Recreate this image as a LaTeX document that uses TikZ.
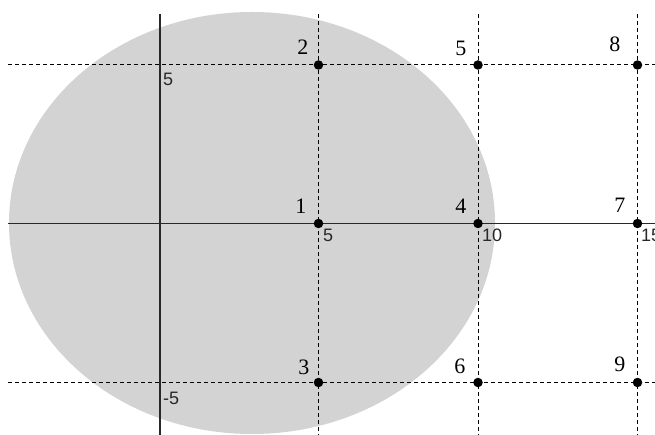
\documentclass[tikz,border=0pt]{standalone}
\usepackage{fontspec}
\setmainfont{Liberation Serif}
\newfontfamily\tickfont{Liberation Sans}
\definecolor{blobgray}{RGB}{211,211,211}
\definecolor{axisgray}{RGB}{40,40,40}
\begin{document}
\begin{tikzpicture}[x=1pt,y=-1pt,
  gridline/.style={draw=black,line width=1pt,dash pattern=on 4pt off 3pt},
  axisline/.style={draw=axisgray,line width=1.4pt},
  dotnode/.style={circle,fill=black,inner sep=0pt,minimum size=9.5pt},
  numlabel/.style={anchor=base east,inner sep=0pt,font=\fontsize{22}{22}\selectfont},
  ticklabel/.style={anchor=north west,inner sep=0pt,font=\tickfont\fontsize{18}{18}\selectfont,text=axisgray}]
\useasboundingbox (0,0) rectangle (655,435);
% gray blob
\fill[blobgray] (252,223) ellipse [x radius=243, y radius=211];
% line ends
\coordinate (hl5) at (8,65);   \coordinate (hr5) at (655,65);
\coordinate (hl0) at (8,223.5); \coordinate (hr0) at (655,223.5);
\coordinate (hlm) at (8,382.5); \coordinate (hrm) at (655,382.5);
\coordinate (vt0) at (160,14); \coordinate (vb0) at (160,435);
\coordinate (vt5) at (318.5,14); \coordinate (vb5) at (318.5,435);
\coordinate (vt10) at (478,14); \coordinate (vb10) at (478,435);
\coordinate (vt15) at (637.5,14); \coordinate (vb15) at (637.5,435);
% grid
\draw[gridline] (hl5) -- (hr5);
\draw[gridline] (hlm) -- (hrm);
\draw[gridline] (vt5) -- (vb5);
\draw[gridline] (vt10) -- (vb10);
\draw[gridline] (vt15) -- (vb15);
% axes
\draw[axisline] (hl0) -- (hr0);
\draw[axisline] (vt0) -- (vb0);
% points
\node[dotnode] (p1) at (318.5,223.5) {};
\node[dotnode] (p2) at (318.5,65) {};
\node[dotnode] (p3) at (318.5,382.5) {};
\node[dotnode] (p4) at (478,223.5) {};
\node[dotnode] (p5) at (478,65) {};
\node[dotnode] (p6) at (478,382.5) {};
\node[dotnode] (p7) at (637.5,223.5) {};
\node[dotnode] (p8) at (637.5,65) {};
\node[dotnode] (p9) at (637.5,382.5) {};
% point labels
\node[numlabel] (l1) at ([xshift=-12pt,yshift=10pt]p1.center) {1};
\node[numlabel] (l2) at ([xshift=-10pt,yshift=10pt]p2.center) {2};
\node[numlabel] (l3) at ([xshift=-9pt,yshift=8.5pt]p3.center) {3};
\node[numlabel] (l4) at ([xshift=-11.5pt,yshift=10pt]p4.center) {4};
\node[numlabel] (l5) at ([xshift=-11.5pt,yshift=9pt]p5.center) {5};
\node[numlabel] (l6) at ([xshift=-12.5pt,yshift=9.5pt]p6.center) {6};
\node[numlabel] (l7) at ([xshift=-12pt,yshift=10.5pt]p7.center) {7};
\node[numlabel] (l8) at ([xshift=-17pt,yshift=13pt]p8.center) {8};
\node[numlabel] (l9) at ([xshift=-12pt,yshift=11pt]p9.center) {9};
% tick labels
\node[ticklabel] (ty5) at (163,73) {5};
\node[ticklabel] (tym5) at (163,392) {-5};
\node[ticklabel] (tx5) at (323,229) {5};
\node[ticklabel] (tx10) at (482,229) {10};
\node[ticklabel] (tx15) at (641,229) {15};
\end{tikzpicture}
\end{document}
